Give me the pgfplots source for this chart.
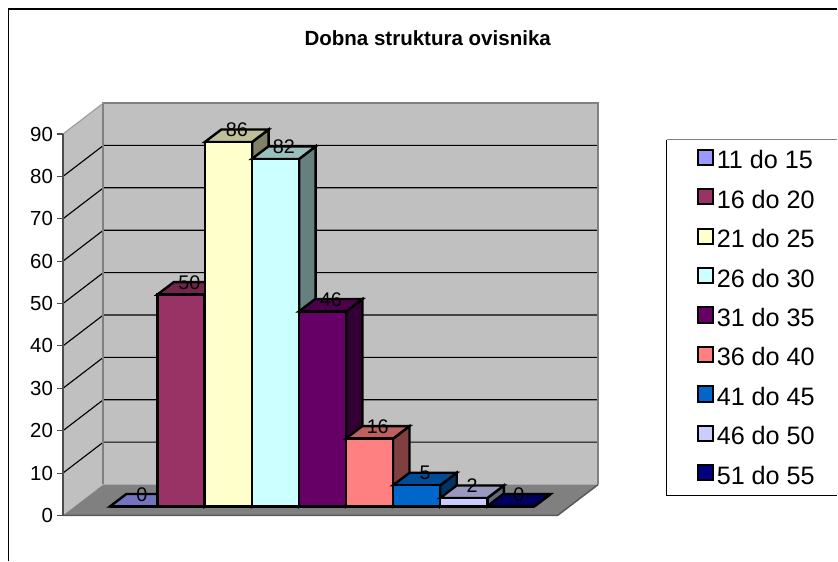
\documentclass[border=0pt]{standalone}
\usepackage{fontspec}
\setmainfont{Liberation Sans}
\usepackage{pgfplots}
\pgfplotsset{compat=1.18}
\definecolor{c1}{HTML}{9999FF}
\definecolor{c2}{HTML}{993366}
\definecolor{c3}{HTML}{FFFFCC}
\definecolor{c4}{HTML}{CCFFFF}
\definecolor{c5}{HTML}{660066}
\definecolor{c6}{HTML}{FF8080}
\definecolor{c7}{HTML}{0066CC}
\definecolor{c8}{HTML}{CCCCFF}
\definecolor{c9}{HTML}{000080}
\definecolor{wall}{HTML}{C0C0C0}
\definecolor{floorc}{HTML}{808080}
% #1 left x (px), #2 value, #3 colour
\newcommand{\threedbar}[3]{%
  \pgfmathsetmacro{\xa}{#1}%
  \pgfmathsetmacro{\xb}{#1+47.3}%
  \pgfmathsetmacro{\xc}{#1+47.3+16.5}%
  \pgfmathsetmacro{\xd}{#1+16.5}%
  \pgfmathsetmacro{\ya}{2.12}%
  \pgfmathsetmacro{\yb}{2.12+#2}%
  \pgfmathsetmacro{\yc}{2.12+#2+2.95}%
  \pgfmathsetmacro{\ye}{2.12+2.95}%
  \addplot[forget plot, draw=black, line width=1.8pt, fill=#3!50!black, line join=miter] coordinates {(\xb,\ya) (\xc,\ye) (\xc,\yc) (\xb,\yb)} -- cycle;
  \addplot[forget plot, draw=black, line width=1.8pt, fill=#3!75!black, line join=miter] coordinates {(\xa,\yb) (\xb,\yb) (\xc,\yc) (\xd,\yc)} -- cycle;
  \addplot[draw=black, line width=1.8pt, fill=#3, line join=miter] coordinates {(\xa,\ya) (\xb,\ya) (\xb,\yb) (\xa,\yb)} -- cycle;
}
\begin{document}
\begin{tikzpicture}
\begin{axis}[
  scale only axis,
  width=401.78pt, height=286.27pt,
  xmin=63, xmax=598.7, ymin=0, ymax=90,
  clip=false, axis on top,
  axis x line=none,
  axis y line=left,
  axis line style={-, draw=black!70, line width=1.4pt},
  ytick={0,10,...,90},
  tickpos=left, tick align=outside,
  major tick length=4.5pt,
  tick style={draw=black!70, line width=0.8pt},
  yticklabel style={font=\fontsize{15.3}{18}\selectfont, xshift=0.5pt},
  /pgf/number format/assume math mode=true,
  legend cell align=left,
  legend style={
    at={(axis cs:693,88.8)}, anchor=north west,
    /tikz/every even column/.append style={column sep=3pt},
    draw=none, fill=none,
    row sep=5.6pt,
    font=\fontsize{18.9}{22}\selectfont,
    nodes={inner xsep=2pt, inner ysep=1pt, text height=19pt, text depth=3pt},
  },
  legend image code/.code={
    \draw[#1, line width=1.5pt] (0pt,-5.2pt) rectangle (11.5pt,6.3pt);
  },
]
% page
\path[fill=white] (axis cs:0,-10.68) rectangle (axis cs:838,121.63);
% chart frame
\draw[black, line width=0.9pt] (axis cs:8.8,-10.68) -- (axis cs:8.8,119.5) -- (axis cs:838,119.5);
% title
\node[font=\fontsize{15.4}{18}\selectfont\bfseries] at (axis cs:428,112.6) {Dobna struktura ovisnika};
% legend frame
\draw[black, line width=0.6pt] (axis cs:838,4.8) -- (axis cs:667.3,4.8) -- (axis cs:667.3,88.6);
\draw[floorc, line width=0.8pt] (axis cs:667.3,88.6) -- (axis cs:838,88.6);
% walls and floor
\addplot[forget plot, draw=none, fill=wall] coordinates {(103.5,7.31) (598.7,7.31) (598.7,97.31) (103.5,97.31)} -- cycle;
\addplot[forget plot, draw=none, fill=wall] coordinates {(63,0) (103.5,7.31) (103.5,97.31) (63,90)} -- cycle;
\addplot[forget plot, draw=none, fill=floorc] coordinates {(63,0) (103.5,7.31) (598.7,7.31) (558,0)} -- cycle;
% gridlines
\addplot[forget plot, black, line width=0.85pt] coordinates {(63,10) (103.5,17.31) (598.7,17.31)};
\addplot[forget plot, black, line width=0.85pt] coordinates {(63,20) (103.5,27.31) (598.7,27.31)};
\addplot[forget plot, black, line width=0.85pt] coordinates {(63,30) (103.5,37.31) (598.7,37.31)};
\addplot[forget plot, black, line width=0.85pt] coordinates {(63,40) (103.5,47.31) (598.7,47.31)};
\addplot[forget plot, black, line width=0.85pt] coordinates {(63,50) (103.5,57.31) (598.7,57.31)};
\addplot[forget plot, black, line width=0.85pt] coordinates {(63,60) (103.5,67.31) (598.7,67.31)};
\addplot[forget plot, black, line width=0.85pt] coordinates {(63,70) (103.5,77.31) (598.7,77.31)};
\addplot[forget plot, black, line width=0.85pt] coordinates {(63,80) (103.5,87.31) (598.7,87.31)};
% wall edges
\addplot[forget plot, floorc, line width=1.4pt] coordinates {(103.5,7.31) (103.5,97.31) (598.7,97.31) (598.7,7.31)};
\addplot[forget plot, wall!80!black, line width=0.8pt] coordinates {(63,90) (103.5,97.31)};
\addplot[forget plot, black!65, line width=1.1pt] coordinates {(63,0) (558,0) (598.7,7.31)};
% bars
\threedbar{110}{0}{c1}
\addlegendentry{11 do 15}
\threedbar{157.5}{50}{c2}
\addlegendentry{16 do 20}
\threedbar{205}{86}{c3}
\addlegendentry{21 do 25}
\threedbar{252}{82}{c4}
\addlegendentry{26 do 30}
\threedbar{299}{46}{c5}
\addlegendentry{31 do 35}
\threedbar{346}{16}{c6}
\addlegendentry{36 do 40}
\threedbar{393.3}{5}{c7}
\addlegendentry{41 do 45}
\threedbar{440.5}{2}{c8}
\addlegendentry{46 do 50}
\threedbar{487.3}{0}{c9}
\addlegendentry{51 do 55}
% value labels
\addplot[forget plot, draw=none, mark=none, point meta=explicit symbolic,
  nodes near coords,
  every node near coord/.append style={anchor=center, inner sep=0pt, text=black, font=\fontsize{14.8}{17}\selectfont}]
  coordinates {(142,5)[0] (189.5,55)[50] (237,91)[86] (284,87)[82] (331,51)[46] (378,21)[16] (425.3,10)[5] (472.5,7)[2] (519.3,5)[0]};
\end{axis}
\end{tikzpicture}
\end{document}
